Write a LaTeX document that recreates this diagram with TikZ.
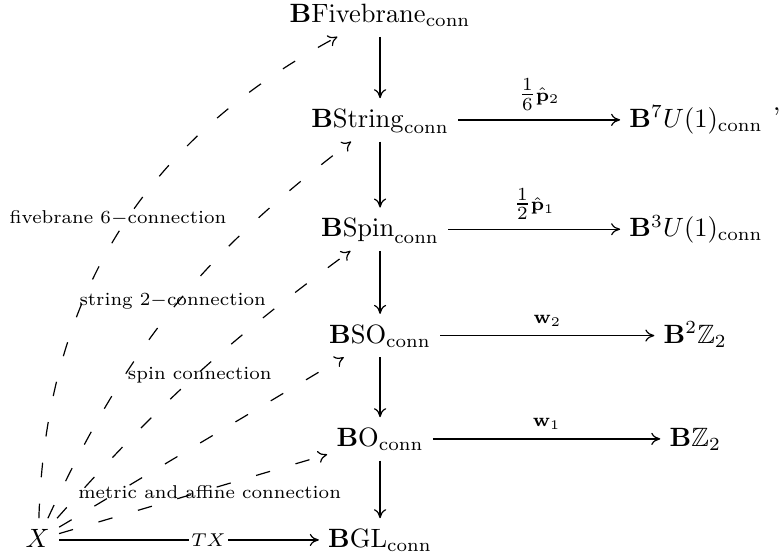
\documentclass[tikz,border=0pt]{standalone}
\usepackage{amsmath,amssymb,amsfonts}
\usepackage{tikz}
\usetikzlibrary{arrows.meta}

\begin{document}
\begin{tikzpicture}[>={To[line width=0.45pt,length=3.4pt,width=4.6pt]},
		obj/.style={anchor=base,text height=7.5pt,text depth=1.8pt},
		down/.style={->,line width=1pt},
		across/.style={->,line width=0.5pt},
		lift/.style={->,line width=0.45pt,dash pattern=on 5.5pt off 10pt},
		lbl/.style={font=\scriptsize}]
		
		\useasboundingbox (0,0) rectangle (10.37,7.41);
		
		% Tower
		\node[obj] (F) at (5.04,7.11) {$\mathbf{B}\mathrm{Fivebrane}_{\mathrm{conn}}$};
		\node[obj] (S) at (5.04,5.72) {$\mathbf{B}\mathrm{String}_{\mathrm{conn}}$};
		\node[obj] (Sp) at (5.04,4.27) {$\mathbf{B}\mathrm{Spin}_{\mathrm{conn}}$};
		\node[obj] (SO) at (5.04,2.86) {$\mathbf{B}\mathrm{SO}_{\mathrm{conn}}$};
		\node[obj] (O) at (5.04,1.49) {$\mathbf{B}\mathrm{O}_{\mathrm{conn}}$};
		\node[obj] (GL) at (5.04,0.15) {$\mathbf{B}\mathrm{GL}_{\mathrm{conn}}$};
		
		% Targets
		\node[obj] (U7) at (9.23,5.72) {$\mathbf{B}^7 U(1)_{\mathrm{conn}}$};
		\node[obj] (U3) at (9.23,4.27) {$\mathbf{B}^3 U(1)_{\mathrm{conn}}$};
		\node[obj] (Z22) at (9.22,2.86) {$\mathbf{B}^2 \mathbb{Z}_2$};
		\node[obj] (Z2) at (9.22,1.49) {$\mathbf{B} \mathbb{Z}_2$};
		\node[anchor=base] (comma) at (10.30,5.95) {,};
		
		% Base
		\node[obj] (X) at (0.50,0.15) {$X$};
		
		\draw[down] (F)--(S);
		\draw[down] (S)--(Sp);
		\draw[down] (Sp)--(SO);
		\draw[down] (SO)--(O);
		\draw[down] (O)--(GL);
		
		\draw[across] (S)--node[above]{$\scriptstyle \tfrac{1}{6}\hat{\mathbf{p}}_2$}(U7);
		\draw[across] (Sp)--node[above]{$\scriptstyle \tfrac{1}{2}\hat{\mathbf{p}}_1$}(U3);
		\draw[across] (SO)--node[above]{$\scriptstyle \mathbf{w}_2$}(Z22);
		\draw[across] (O)--node[above]{$\scriptstyle \mathbf{w}_1$}(Z2);
		\draw[across] (X)--node[pos=0.575,fill=white,inner sep=1pt]{$\scriptstyle TX$}(GL);
		
		% Lifts
		\draw[lift] (X) to[bend left=30] (F);
		\draw[lift] (X) to[bend left=14] (S);
		\draw[lift] (X) to[bend left=6] (Sp);
		\draw[lift] (X)--(SO);
		\draw[lift] (X)--(O);
		
		\node[lbl] (l6) at (1.565,4.52) {fivebrane 6$-$connection};
		\node[lbl] (l2) at (2.29,3.42) {string 2$-$connection};
		\node[lbl] (l1) at (2.65,2.44) {spin connection};
		\node[lbl] (l0) at (2.78,0.89) {metric and affine connection};
		
	\end{tikzpicture}
\end{document}
